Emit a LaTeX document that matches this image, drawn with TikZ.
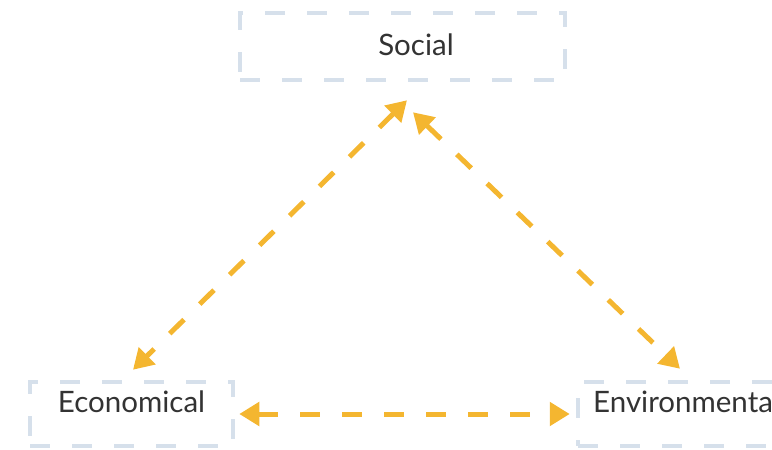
\documentclass[tikz,border=0pt]{standalone}
\usepackage{fontspec}
\setmainfont{Lato}
\usetikzlibrary{arrows.meta}
\definecolor{boxline}{HTML}{D6E0EB}
\definecolor{flow}{HTML}{F4B630}
\definecolor{ink}{HTML}{333333}
\begin{document}
\begin{tikzpicture}[x=1pt,y=1pt,
  pillar/.style={draw=boxline, line width=4.5pt, dash pattern=on 20pt off 22pt,
    inner sep=0pt, rectangle},
  caption/.style={text=ink, font=\fontsize{29.5}{34}\selectfont, inner sep=0pt},
  link/.style={draw=flow, line width=5pt, dash pattern=on 20pt off 22pt,
    {Triangle[length=20pt,width=23pt]}-{Triangle[length=20pt,width=23pt]}}]
  \useasboundingbox (0,0) rectangle (772,-450);
  \clip (0,0) rectangle (772,-450);
  % the three pillars
  \node[pillar, minimum width=325pt, minimum height=67pt] (social) at (402.5,-46.5) {};
  \node[pillar, minimum width=203pt, minimum height=64pt] (econ) at (131.5,-414) {};
  \node[pillar, minimum width=212pt, minimum height=64pt] (env) at (684,-414) {};
  % their names
  \node[caption] (socialtxt) at (416,-45) {Social};
  \node[caption] (econtxt) at (131.5,-402) {Economical};
  \node[caption, anchor=west] (envtxt) at (593,-402) {Environmental};
  % two-way links between the pillars
  \draw[link] ([shift={(4.5,-18)}]social.south) -- ([shift={(1.5,10)}]econ.north);
  \draw[link] ([shift={(10.5,-30)}]social.south) -- ([shift={(-4,11)}]env.north);
  \draw[link] ([xshift=4pt]econ.east) -- ([xshift=-6pt]env.west);
\end{tikzpicture}
\end{document}
